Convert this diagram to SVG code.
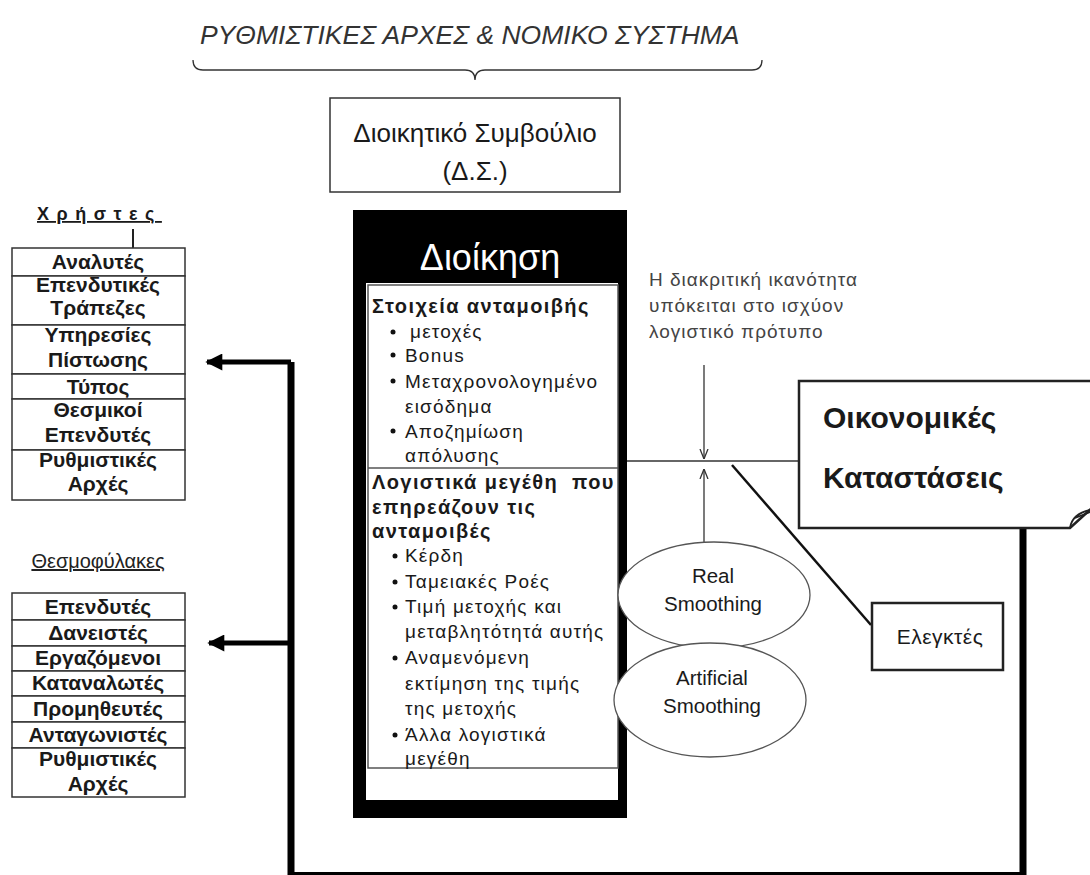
<svg xmlns="http://www.w3.org/2000/svg" width="1090" height="875" viewBox="0 0 1090 875">
<defs>
<style>
text{font-family:"Liberation Sans",Arial,sans-serif;fill:#1a1a1a}
.tb{font-size:21px;font-weight:bold;text-anchor:middle}
.cell{fill:#fff;stroke:#333;stroke-width:1.5}
.in{font-size:19px;letter-spacing:1.2px}
.inb{font-size:20px;font-weight:bold;letter-spacing:1.4px}
.thin{fill:none;stroke:#333;stroke-width:1.3}
.thick{fill:none;stroke:#000;stroke-width:7}
.arr{fill:none;stroke:#000;stroke-width:5}
.note{font-size:19px;letter-spacing:1px;fill:#444}
.ell{font-size:20.5px;text-anchor:middle}
</style>
<marker id="ah" viewBox="0 0 10 10" refX="9" refY="5" markerWidth="4" markerHeight="3.4" orient="auto" markerUnits="strokeWidth">
<path d="M0,0 L10,5 L0,10 Z" fill="#000"/>
</marker>
<marker id="open" viewBox="0 0 10 10" refX="10" refY="5" markerWidth="10" markerHeight="10" orient="auto" markerUnits="userSpaceOnUse">
<path d="M0,1 L10,5 L0,9" fill="none" stroke="#333" stroke-width="1.3"/>
</marker>
</defs>
<rect width="1090" height="875" fill="#fff"/>

<g id="title">
<text x="200" y="44" font-size="26.5" font-style="italic" style="fill:#333">ΡΥΘΜΙΣΤΙΚΕΣ ΑΡΧΕΣ &amp; ΝΟΜΙΚΟ ΣΥΣΤΗΜΑ</text>
<path class="thin" d="M193,60 Q193,70 203,70 H465 Q475,70 475,80 Q475,70 485,70 H752 Q762,70 762,60"/>
</g>

<g id="board">
<rect x="330" y="98" width="290" height="94" fill="#fff" stroke="#333" stroke-width="1.5"/>
<text x="475" y="142" font-size="26" text-anchor="middle">Διοικητικό Συμβούλιο</text>
<text x="475" y="180" font-size="26" text-anchor="middle">(Δ.Σ.)</text>
</g>

<g id="users">
<text x="37" y="220" font-size="18" font-weight="bold" letter-spacing="7.5" text-decoration="underline">Χρήστες</text>
<line x1="133" y1="229" x2="133" y2="248" stroke="#222" stroke-width="2"/>
<rect class="cell" x="12" y="248" width="173" height="28"/>
<rect class="cell" x="12" y="276" width="173" height="49"/>
<rect class="cell" x="12" y="325" width="173" height="49"/>
<rect class="cell" x="12" y="374" width="173" height="25"/>
<rect class="cell" x="12" y="399" width="173" height="51"/>
<rect class="cell" x="12" y="450" width="173" height="50"/>
<text class="tb" x="98" y="269">Αναλυτές</text>
<text class="tb" x="98" y="292">Επενδυτικές</text>
<text class="tb" x="98" y="315">Τράπεζες</text>
<text class="tb" x="98" y="342">Υπηρεσίες</text>
<text class="tb" x="98" y="367">Πίστωσης</text>
<text class="tb" x="98" y="394">Τύπος</text>
<text class="tb" x="98" y="417">Θεσμικοί</text>
<text class="tb" x="98" y="442">Επενδυτές</text>
<text class="tb" x="98" y="467">Ρυθμιστικές</text>
<text class="tb" x="98" y="491">Αρχές</text>
</g>

<g id="guardians">
<text x="98" y="568" font-size="20" text-anchor="middle" text-decoration="underline" style="fill:#222">Θεσμοφύλακες</text>
<rect class="cell" x="12" y="593" width="173" height="27"/>
<rect class="cell" x="12" y="620" width="173" height="26"/>
<rect class="cell" x="12" y="646" width="173" height="25"/>
<rect class="cell" x="12" y="671" width="173" height="25"/>
<rect class="cell" x="12" y="696" width="173" height="26"/>
<rect class="cell" x="12" y="722" width="173" height="26"/>
<rect class="cell" x="12" y="748" width="173" height="49"/>
<text class="tb" x="98" y="614">Επενδυτές</text>
<text class="tb" x="98" y="640">Δανειστές</text>
<text class="tb" x="98" y="665">Εργαζόμενοι</text>
<text class="tb" x="98" y="690">Καταναλωτές</text>
<text class="tb" x="98" y="716">Προμηθευτές</text>
<text class="tb" x="98" y="742">Ανταγωνιστές</text>
<text class="tb" x="98" y="766">Ρυθμιστικές</text>
<text class="tb" x="98" y="791">Αρχές</text>
</g>

<g id="management">
<rect x="353" y="210" width="274" height="608" fill="#000"/>
<rect x="366" y="283" width="252" height="517" fill="#fff"/>
<text x="490" y="270" font-size="36" text-anchor="middle" style="fill:#fff">Διοίκηση</text>
<rect x="368" y="285" width="250" height="483" fill="none" stroke="#555" stroke-width="1.5"/>
<line x1="368" y1="468" x2="618" y2="468" stroke="#555" stroke-width="1.5"/>
<text class="inb" x="372" y="313">Στοιχεία ανταμοιβής</text>
<circle cx="393" cy="332" r="2.5" fill="#111"/>
<text class="in" x="410" y="338">μετοχές</text>
<circle cx="393" cy="355" r="2.5" fill="#111"/>
<text class="in" x="405" y="362">Bonus</text>
<circle cx="393" cy="381" r="2.5" fill="#111"/>
<text class="in" x="405" y="388">Μεταχρονολογημένο</text>
<text class="in" x="405" y="413">εισόδημα</text>
<circle cx="393" cy="431" r="2.5" fill="#111"/>
<text class="in" x="405" y="438">Αποζημίωση</text>
<text class="in" x="405" y="462">απόλυσης</text>
<text class="inb" x="372" y="489">Λογιστικά μεγέθη</text>
<text class="inb" x="572" y="489">που</text>
<text class="inb" x="372" y="514">επηρεάζουν τις</text>
<text class="inb" x="372" y="538">ανταμοιβές</text>
<circle cx="395" cy="556" r="2.5" fill="#111"/>
<text class="in" x="405" y="562">Κέρδη</text>
<circle cx="395" cy="582" r="2.5" fill="#111"/>
<text class="in" x="405" y="588">Ταμειακές Ροές</text>
<circle cx="395" cy="607" r="2.5" fill="#111"/>
<text class="in" x="405" y="613">Τιμή μετοχής και</text>
<text class="in" x="405" y="638">μεταβλητότητά αυτής</text>
<circle cx="395" cy="658" r="2.5" fill="#111"/>
<text class="in" x="405" y="664">Αναμενόμενη</text>
<text class="in" x="405" y="690">εκτίμηση της τιμής</text>
<text class="in" x="405" y="715">της μετοχής</text>
<circle cx="395" cy="735" r="2.5" fill="#111"/>
<text class="in" x="405" y="741">Άλλα λογιστικά</text>
<text class="in" x="405" y="765">μεγέθη</text>
</g>

<g id="note">
<text class="note" x="649" y="286">Η διακριτική ικανότητα</text>
<text class="note" x="649" y="312">υπόκειται στο ισχύον</text>
<text class="note" x="649" y="338">λογιστικό πρότυπο</text>
</g>

<g id="connectors">
<path class="thick" d="M291,362 V875.5 H1023 V528"/>
<line class="arr" x1="291" y1="362" x2="207" y2="362" marker-end="url(#ah)"/>
<line class="arr" x1="291" y1="643" x2="209" y2="643" marker-end="url(#ah)"/>
<line x1="627" y1="461" x2="799" y2="461" stroke="#666" stroke-width="2"/>
<line x1="704" y1="365" x2="704" y2="459" stroke="#333" stroke-width="1.3" marker-end="url(#open)"/>
<line x1="704" y1="542" x2="704" y2="469" stroke="#333" stroke-width="1.3" marker-end="url(#open)"/>
<line x1="732" y1="465" x2="871" y2="625" stroke="#111" stroke-width="2.5"/>
</g>

<g id="statements">
<path d="M799,381 H1093 V507 L1070,528 H799 Z" fill="#fff" stroke="#222" stroke-width="2.5"/>
<path d="M1070,528 Q1072,514 1090,510 M1075,518 L1090,512" fill="none" stroke="#222" stroke-width="1.8"/>
<text x="823" y="428" font-size="30" font-weight="bold">Οικονομικές</text>
<text x="823" y="488" font-size="30" font-weight="bold">Καταστάσεις</text>
</g>

<g id="real">
<ellipse cx="714" cy="595" rx="96" ry="53" fill="#fff" stroke="#555" stroke-width="1.3"/>
<text class="ell" x="713" y="583">Real</text>
<text class="ell" x="713" y="611">Smoothing</text>
</g>

<g id="artificial">
<ellipse cx="710" cy="700" rx="96" ry="57" fill="#fff" stroke="#555" stroke-width="1.3"/>
<text class="ell" x="712" y="685">Artificial</text>
<text class="ell" x="712" y="713">Smoothing</text>
</g>

<g id="auditors">
<rect x="872" y="603" width="131" height="67" fill="#fff" stroke="#222" stroke-width="2.5"/>
<text x="940" y="644" font-size="21" letter-spacing="0.5" text-anchor="middle">Ελεγκτές</text>
</g>
</svg>
